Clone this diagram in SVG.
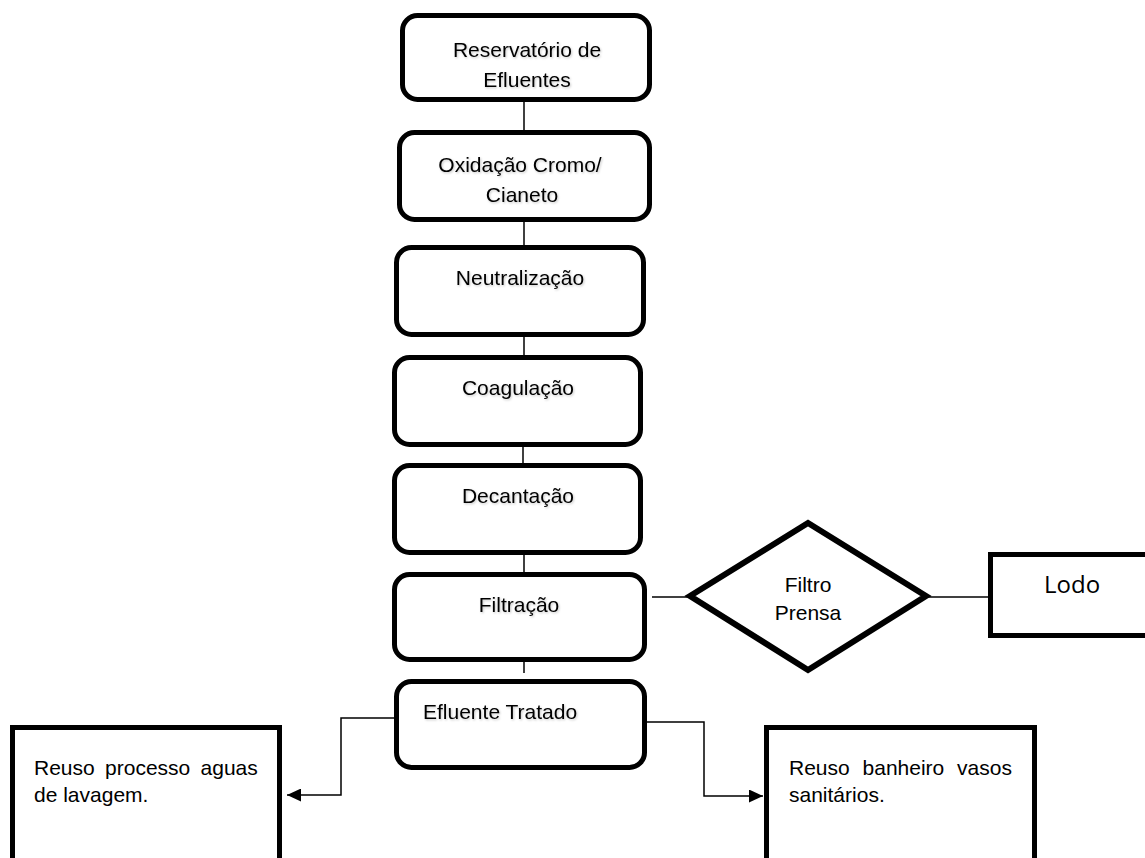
<svg xmlns="http://www.w3.org/2000/svg" width="1145" height="858" viewBox="0 0 1145 858">
<defs>
<filter id="sh" x="-10%" y="-30%" width="130%" height="170%">
<feDropShadow dx="1" dy="1.2" stdDeviation="0.8" flood-color="#000" flood-opacity="0.22"/>
</filter>
<marker id="arr" markerWidth="14" markerHeight="13" refX="14" refY="6.5" orient="auto" markerUnits="userSpaceOnUse">
<path d="M0,0 L14,6.5 L0,13 Z" fill="#000"/>
</marker>
</defs>
<style>
.box{fill:#fff;stroke:#000;stroke-width:5}
.t{font-family:"Liberation Sans",Arial,sans-serif;font-size:21px;fill:#000}
.c{text-anchor:middle}
.s{filter:url(#sh)}
.ln{fill:none;stroke:#000;stroke-width:1.5}
</style>
<rect width="1145" height="858" fill="#fff"/>
<g id="connectors">
<line class="ln" x1="524" y1="102" x2="524" y2="130"/>
<line class="ln" x1="524" y1="222" x2="524" y2="245"/>
<line class="ln" x1="524" y1="334" x2="524" y2="361"/>
<line class="ln" x1="523" y1="447" x2="523" y2="463"/>
<line class="ln" x1="524" y1="555" x2="524" y2="572"/>
<line class="ln" x1="524" y1="657" x2="524" y2="673"/>
<line class="ln" x1="652" y1="597" x2="690" y2="597"/>
<line class="ln" x1="926" y1="597" x2="988" y2="597"/>
<polyline class="ln" points="394,718 341,718 341,795 287,795" marker-end="url(#arr)"/>
<polyline class="ln" points="647,722 704,722 704,796 763,796" marker-end="url(#arr)"/>
</g>
<g id="n1">
<rect class="box" x="402.5" y="15.5" width="247" height="84" rx="15"/>
<text class="t c s" x="527" y="57">Reservatório de</text>
<text class="t c s" x="527" y="87">Efluentes</text>
</g>
<g id="n2">
<rect class="box" x="399.5" y="132.5" width="250" height="87" rx="15"/>
<text class="t c s" x="520" y="172">Oxidação Cromo/</text>
<text class="t c s" x="522" y="202">Cianeto</text>
</g>
<g id="n3">
<rect class="box" x="396.5" y="247.5" width="247" height="87" rx="15"/>
<text class="t c s" x="520" y="285">Neutralização</text>
</g>
<g id="n4">
<rect class="box" x="394.5" y="357.5" width="246" height="87" rx="15"/>
<text class="t c s" x="518" y="395">Coagulação</text>
</g>
<g id="n5">
<rect class="box" x="394.5" y="465.5" width="246" height="87" rx="15"/>
<text class="t c s" x="518" y="503">Decantação</text>
</g>
<g id="n6">
<rect class="box" x="394.5" y="574.5" width="250" height="85" rx="15"/>
<text class="t c s" x="519" y="612">Filtração</text>
</g>
<g id="n7">
<rect class="box" x="396.5" y="681.5" width="248" height="86" rx="15"/>
<text class="t s" x="423" y="719">Efluente Tratado</text>
</g>
<g id="n8">
<polygon points="690,596 808,523 926,596 808,670" fill="#fff" stroke="#000" stroke-width="6" stroke-linejoin="miter"/>
<text class="t c" x="808" y="592">Filtro</text>
<text class="t c" x="808" y="620">Prensa</text>
</g>
<g id="n9">
<rect class="box" x="990.5" y="554.5" width="170" height="81"/>
<text x="1044" y="593" style="font-family:'Open Sans','Noto Sans',sans-serif;font-size:24px;fill:#000">Lodo</text>
</g>
<g id="n10">
<rect class="box" x="12.5" y="727.5" width="267" height="150"/>
<text class="t" x="34" y="775" word-spacing="4.5">Reuso processo aguas</text>
<text class="t" x="34" y="802">de lavagem.</text>
</g>
<g id="n11">
<rect class="box" x="766.5" y="727.5" width="268" height="150"/>
<text class="t" x="789" y="775" word-spacing="7">Reuso banheiro vasos</text>
<text class="t" x="789" y="802">sanitários.</text>
</g>
</svg>
